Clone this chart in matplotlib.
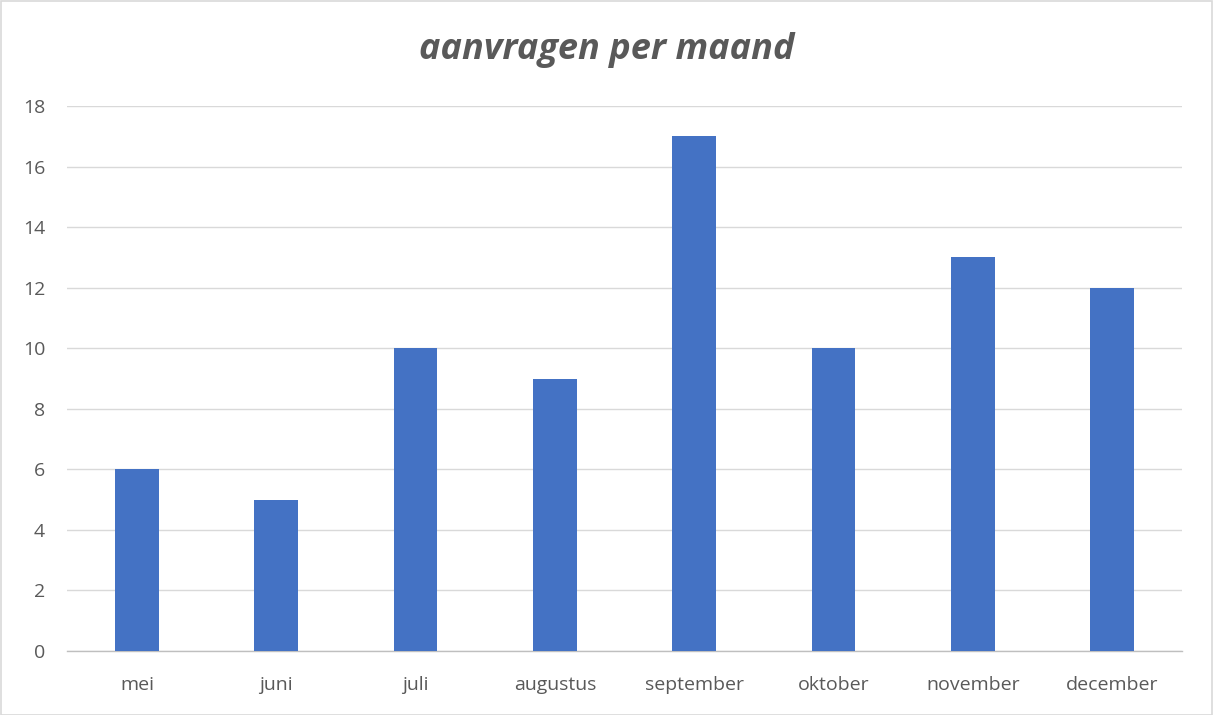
import matplotlib
matplotlib.use("Agg")
import matplotlib.pyplot as plt
from matplotlib.patches import Rectangle

months = ["mei", "juni", "juli", "augustus", "september", "oktober", "november", "december"]
values = [6, 5, 10, 9, 17, 10, 13, 12]
yticks = [0, 2, 4, 6, 8, 10, 12, 14, 16, 18]

plt.rcParams['font.family'] = ['Open Sans', 'DejaVu Sans']

W, H = 1213, 715
fig = plt.figure(figsize=(W / 100, H / 100), dpi=100)
fig.patch.set_facecolor("white")
fig.patches.append(Rectangle((0.5 / W, 0.5 / H), 1 - 1.5 / W, 1 - 1.5 / H, transform=fig.transFigure,
                             fill=False, edgecolor="#d9d9d9", linewidth=1.2))

left, right = 67.3, 1181.7
top, bottom = 106, 651
ax = fig.add_axes([left / W, 1 - bottom / H, (right - left) / W, (bottom - top) / H])

x = list(range(len(months)))
ax.bar(x, values, width=0.315, color="#4472C4", zorder=3)
ax.set_xlim(-0.5, len(months) - 0.5)
ax.set_ylim(0, 18)
ax.set_yticks(yticks)
ax.set_xticks(x)
ax.set_xticklabels(months)
ax.yaxis.grid(True, color="#d9d9d9", linewidth=1, zorder=0)
ax.set_axisbelow(True)
for s in ["top", "right", "left"]:
    ax.spines[s].set_visible(False)
ax.spines["bottom"].set_color("#bfbfbf")
ax.spines["bottom"].set_linewidth(1)
ax.tick_params(axis="both", length=0, colors="#595959", labelsize=14)
ax.tick_params(axis="x", pad=18)
ax.tick_params(axis="y", pad=16)
for lab in ax.get_yticklabels():
    lab.set_horizontalalignment("right")

fig.text(0.5, 1 - 50 / H, "aanvragen per maand", ha="center", va="center",
         fontsize=26, fontweight="bold", fontstyle="italic", color="#595959")

fig.savefig("out.png", dpi=100)
